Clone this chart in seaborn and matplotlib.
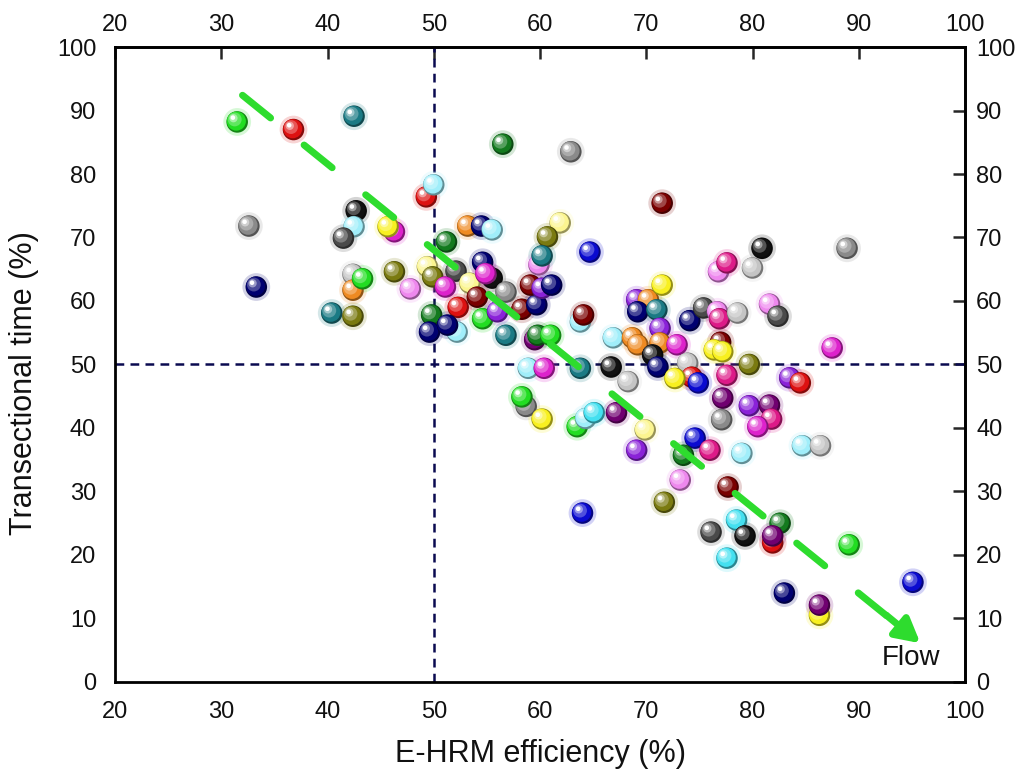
import numpy as np
import pandas as pd
import matplotlib
matplotlib.use("Agg")
import matplotlib.pyplot as plt
import matplotlib.transforms as mtransforms
from matplotlib.colors import to_rgb
import seaborn as sns

# ---------------- data ----------------
efficiency = [31.5, 36.8, 42.5, 32.6, 33.3, 42.7, 42.5, 41.5, 46.3, 45.7,
              42.4, 42.4, 43.3, 46.3, 47.8, 40.4, 42.4, 49.3, 50.0, 56.5,
              62.9, 71.5, 53.2, 54.5, 55.5, 61.9, 60.7, 59.9, 60.2, 64.7,
              51.2, 49.4, 49.9, 52.1, 51.1, 53.4, 55.5, 54.6, 54.9, 56.8,
              54.1, 52.3, 49.8, 49.6, 52.2, 51.3, 54.6, 56.0, 56.8, 58.3,
              59.7, 59.1, 60.2, 61.1, 63.8, 64.1, 59.5, 59.8, 61.0, 66.9,
              68.7, 69.2, 69.1, 70.2, 69.2, 71.0, 71.5, 71.3, 71.3, 72.9,
              70.6, 71.1, 74.1, 75.4, 76.8, 77.6, 80.0, 80.9, 88.9, 76.7,
              76.9, 78.6, 81.6, 82.4, 77.0, 76.4, 77.2, 87.5, 79.7, 73.9,
              74.3, 74.9, 72.7, 77.6, 83.5, 84.5, 77.2, 79.7, 81.6, 81.8,
              80.5, 77.1, 74.6, 76.0, 73.5, 79.0, 84.7, 86.4, 73.2, 77.7,
              78.5, 76.1, 79.3, 82.6, 81.9, 81.9, 77.6, 89.1, 83.0, 86.3,
              86.3, 95.1, 58.9, 60.4, 63.8, 66.7, 68.3, 58.7, 58.3, 60.2,
              63.5, 64.3, 65.1, 67.2, 69.9, 69.1, 71.7, 64.0]
trans_time = [88.2, 87.0, 89.1, 71.8, 62.2, 74.2, 71.7, 69.9, 70.9, 71.7,
              64.2, 61.7, 63.5, 64.6, 61.9, 58.1, 57.6, 76.4, 78.3, 84.7,
              83.5, 75.4, 71.8, 71.8, 71.2, 72.3, 70.1, 65.7, 67.1, 67.7,
              69.3, 65.4, 63.8, 64.7, 62.2, 62.8, 63.6, 66.1, 64.3, 61.4,
              60.6, 59.0, 57.8, 55.1, 55.1, 56.2, 57.2, 58.3, 54.6, 58.7,
              59.4, 62.5, 62.0, 62.5, 56.7, 57.8, 53.9, 54.6, 54.6, 54.2,
              54.2, 53.1, 60.2, 60.2, 58.3, 58.6, 62.5, 55.7, 53.4, 53.1,
              51.5, 49.6, 56.9, 58.9, 64.6, 66.0, 65.2, 68.3, 68.3, 58.3,
              57.2, 58.1, 59.5, 57.6, 53.5, 52.3, 52.0, 52.6, 50.0, 50.2,
              48.0, 47.1, 47.8, 48.3, 47.9, 47.1, 44.7, 43.5, 43.6, 41.4,
              40.2, 41.3, 38.4, 36.5, 35.7, 36.0, 37.2, 37.2, 31.8, 30.7,
              25.5, 23.6, 23.0, 25.0, 21.9, 23.0, 19.5, 21.6, 14.0, 10.5,
              12.1, 15.7, 49.4, 49.4, 49.4, 49.6, 47.3, 43.4, 44.9, 41.4,
              40.2, 41.5, 42.4, 42.4, 39.7, 36.5, 28.3, 26.6]
group = ["lime", "red", "teal", "gray", "navy", "black", "lcyan", "dgray", "magenta", "yellow",
         "silver", "orange", "lime", "olive", "violet", "teal", "olive", "red", "lcyan", "dgreen",
         "gray", "maroon", "orange", "navy", "lcyan", "lyellow", "olive", "violet", "teal", "blue",
         "dgreen", "lyellow", "olive", "dgray", "magenta", "lyellow", "black", "navy", "magenta", "gray",
         "maroon", "red", "dgreen", "navy", "lcyan", "navy", "lime", "purple", "teal", "maroon",
         "navy", "maroon", "purple", "navy", "lcyan", "maroon", "dpurple", "dgreen", "lime", "lcyan",
         "orange", "orange", "purple", "orange", "navy", "teal", "yellow", "purple", "orange", "magenta",
         "black", "navy", "navy", "dgray", "violet", "dpink", "silver", "black", "gray", "violet",
         "dpink", "silver", "violet", "dgray", "maroon", "yellow", "yellow", "magenta", "olive", "silver",
         "red", "blue", "yellow", "dpink", "purple", "red", "dpurple", "purple", "dpurple", "dpink",
         "magenta", "gray", "blue", "dpink", "dgreen", "lcyan", "lcyan", "silver", "violet", "maroon",
         "cyan", "dgray", "black", "dgreen", "red", "dpurple", "cyan", "lime", "navy", "yellow",
         "dpurple", "blue", "lcyan", "magenta", "teal", "black", "silver", "gray", "lime", "yellow",
         "lime", "lcyan", "cyan", "dpurple", "lyellow", "purple", "olive", "blue"]

palette = {"lime": "#22dd22", "red": "#dd1111", "teal": "#1a7a84", "gray": "#8a8a8a",
           "navy": "#000070", "black": "#111111", "lcyan": "#a0eefa", "dgray": "#4a4a4a",
           "yellow": "#f8f020", "magenta": "#dd22cc", "silver": "#c4c4c4", "orange": "#ee8a22",
           "olive": "#7a7a10", "violet": "#ee88ee", "dgreen": "#137a1e", "maroon": "#7a0000",
           "blue": "#0a0ad0", "purple": "#8a22d8", "dpink": "#dd1a88", "dpurple": "#700070",
           "cyan": "#44e0f0", "lyellow": "#fbf590"}

x_ticks = [20, 30, 40, 50, 60, 70, 80, 90, 100]
y_ticks = [0, 10, 20, 30, 40, 50, 60, 70, 80, 90, 100]
flow_start = (32.0, 92.4)
flow_end = (95.8, 6.1)
threshold = 50

df = pd.DataFrame({"eff": efficiency, "time": trans_time, "grp": group})

# ---------------- style ----------------
sns.set_theme(style="white")
plt.rcParams["font.family"] = ["Liberation Sans", "DejaVu Sans"]

fig = plt.figure(figsize=(10.24, 7.77), dpi=100)
ax = fig.add_axes([0.1123, 0.1223, 0.8301, 0.8172])

# glow halos (seaborn)
sns.scatterplot(data=df, x="eff", y="time", hue="grp", palette=palette, s=400,
                alpha=0.18, edgecolor="none", legend=False, ax=ax, zorder=2)


def mix(c, t, w):
    c = np.array(to_rgb(c)); t = np.array(to_rgb(t))
    return tuple(c * (1 - w) + t * w)


layers = [  # (size, color transform, dx, dy)
    (240, lambda c: mix(c, "black", 0.4), 0.0, 0.0),
    (190, lambda c: c, -0.6, 0.6),
    (100, lambda c: mix(c, "white", 0.28), -1.8, 1.8),
    (36, lambda c: mix(c, "white", 0.6), -2.7, 2.7),
    (11, lambda c: "white", -3.1, 3.1),
]
for i, row in df.iterrows():
    base = palette[row["grp"]]
    for s, f, dx, dy in layers:
        tr = mtransforms.offset_copy(ax.transData, fig=fig, x=dx, y=dy, units="points")
        ax.scatter([row["eff"]], [row["time"]], s=s, color=[f(base)], edgecolors="none",
                   transform=tr, zorder=3 + i * 0.001)

# reference lines
ax.axvline(threshold, color="#0a0a50", lw=1.8, ls=(0, (3.5, 2.5)), zorder=1)
ax.axhline(threshold, color="#0a0a50", lw=1.8, ls=(0, (3.5, 2.5)), zorder=1)

# flow arrow
ax.plot([flow_start[0], flow_end[0] - 2.2], [flow_start[1], flow_end[1] + 3.0],
        color="#2edc2e", lw=5, ls=(0, (5.2, 6.2)), solid_capstyle="round",
        dash_capstyle="round", zorder=5)
ax.annotate("", xy=flow_end, xytext=(flow_end[0] - 3.2, flow_end[1] + 4.4),
            arrowprops=dict(arrowstyle="-|>,head_length=1.2,head_width=0.65",
                            color="#2edc2e", lw=5, shrinkA=0, shrinkB=0), zorder=5)
ax.text(92.2, 2.6, "Flow", fontsize=20, ha="left", va="baseline", color="#111111", zorder=6)

# axes
ax.set_xlim(20, 100)
ax.set_ylim(0, 100)
ax.set_xticks(x_ticks)
ax.set_yticks(y_ticks)
for sp in ax.spines.values():
    sp.set_linewidth(2)
    sp.set_color("black")
    sp.set_visible(True)
ax.tick_params(axis="both", direction="out", length=8.5, width=1.8, labelsize=17,
               pad=5, colors="black", labelcolor="#111111")
ax.set_xlabel("E-HRM efficiency (%)", fontsize=22, color="#111111")
ax.set_ylabel("Transectional time (%)", fontsize=22, color="#111111")
ax.xaxis.set_label_coords(0.5, -0.09)
ax.yaxis.set_label_coords(-0.089, 0.471)

secx = ax.secondary_xaxis("top")
secx.set_xticks(x_ticks)
secx.tick_params(direction="in", length=8.5, width=1.8, labelsize=17, pad=8, labelcolor="#111111")
secx.spines["top"].set_linewidth(2)
secy = ax.secondary_yaxis("right")
secy.set_yticks(y_ticks)
secy.tick_params(direction="in", length=8.5, width=1.8, labelsize=17, pad=8, labelcolor="#111111")
secy.spines["right"].set_linewidth(2)

ax.grid(False)
fig.savefig("out.png", dpi=100, facecolor="white")
